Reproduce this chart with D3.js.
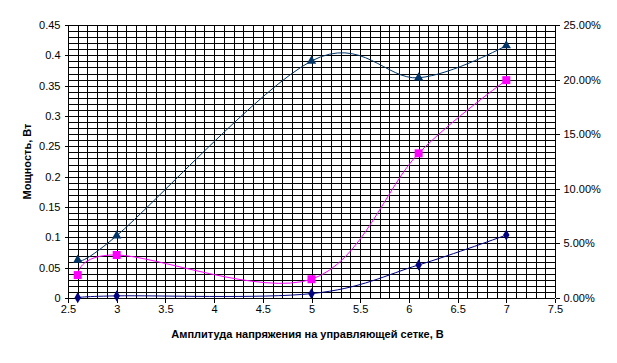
<!DOCTYPE html>
<html><head><meta charset="utf-8">
<script src="https://cdn.jsdelivr.net/npm/d3@7"></script>
<style>body{margin:0;background:#fff}svg{display:block}</style>
</head><body>
<svg id="c" width="617" height="363"></svg>
<script>
const xValues = [2.6, 3, 5, 6.1, 7];
const powerTriangle = [0.0626, 0.1027, 0.3907, 0.363, 0.416];
const powerDiamond = [0.0005, 0.0035, 0.0072, 0.0545, 0.1038];
const efficiencyPct = [2.1, 3.94, 1.72, 13.25, 19.95];
const xTicks = [2.5, 3, 3.5, 4, 4.5, 5, 5.5, 6, 6.5, 7, 7.5];
const yTicks = [0, 0.05, 0.1, 0.15, 0.2, 0.25, 0.3, 0.35, 0.4, 0.45];
const y2Ticks = [0, 5, 10, 15, 20, 25];

const svg = d3.select("#c");
const L = 68, R = 555, T = 25, B = 298;
const x = d3.scaleLinear().domain([2.5, 7.5]).range([L, R]);
const y = d3.scaleLinear().domain([0, 0.45]).range([B, T]);
const y2 = d3.scaleLinear().domain([0, 25]).range([B, T]);
const font = "Liberation Sans, Arial, sans-serif";

// grid
const g = svg.append("g").attr("shape-rendering", "crispEdges");
d3.range(0, 46).forEach(i => {
  const yy = Math.round(y(i / 100)) + 0.5;
  g.append("line").attr("x1", L).attr("x2", R).attr("y1", yy).attr("y2", yy).attr("stroke", "#000");
});
d3.range(0, 51).forEach(i => {
  const xx = Math.round(x(2.5 + i / 10)) + 0.5;
  g.append("line").attr("x1", xx).attr("x2", xx).attr("y1", T).attr("y2", B).attr("stroke", "#000");
});

// axes
const ax = svg.append("g").attr("transform", `translate(0,${Math.round(B)+0.5})`)
  .call(d3.axisBottom(x).tickValues(xTicks).tickSize(4).tickFormat(d3.format("")));
const ay = svg.append("g").attr("transform", `translate(${Math.round(L)+0.5},0)`)
  .call(d3.axisLeft(y).tickValues(yTicks).tickSize(4).tickFormat(d => d === 0 ? "0" : String(+d.toFixed(2))));
const ay2 = svg.append("g").attr("transform", `translate(${Math.round(R)+0.5},0)`)
  .call(d3.axisRight(y2).tickValues(y2Ticks).tickSize(4).tickFormat(d => d.toFixed(2) + "%"));
[ax, ay, ay2].forEach(a => {
  a.select(".domain").remove();
  a.selectAll("line").attr("stroke", "#000").attr("shape-rendering", "crispEdges");
  a.selectAll("text").attr("font-family", font).attr("font-size", 11).attr("fill", "#000");
});
ax.selectAll("text").attr("dy", "0.71em").attr("y", 7);
ay.selectAll("text").attr("x", -8);
ay2.selectAll("text").attr("x", 8);

// titles
svg.append("text").attr("x", (L + R) / 2 - 4).attr("y", 338).attr("text-anchor", "middle")
  .attr("font-family", font).attr("font-size", 11).attr("font-weight", "bold")
  .text("Амплитуда напряжения на управляющей сетке, В");
svg.append("text").attr("transform", `translate(31,${(T + B) / 2}) rotate(-90)`).attr("text-anchor", "middle")
  .attr("font-family", font).attr("font-size", 11).attr("font-weight", "bold")
  .text("Мощность, Вт");

// series
const curve = d3.curveCardinal.tension(0);
function series(vals, ys, color, marker) {
  const pts = xValues.map((v, i) => [x(v), ys(vals[i])]);
  svg.append("path").attr("d", d3.line().curve(curve)(pts)).attr("fill", "none")
    .attr("stroke", color).attr("stroke-width", 1);
  const sym = d3.symbol().type(marker.type).size(marker.size);
  svg.append("g").selectAll("path").data(pts).join("path")
    .attr("transform", d => `translate(${d[0]},${d[1]})`)
    .attr("d", sym).attr("fill", color);
}
series(powerTriangle, y, "#003366", {type: d3.symbolTriangle, size: 38});
series(efficiencyPct, y2, "#FF00FF", {type: d3.symbolSquare, size: 64});
series(powerDiamond, y, "#000080", {type: d3.symbolDiamond, size: 36});
</script>
</body></html>
